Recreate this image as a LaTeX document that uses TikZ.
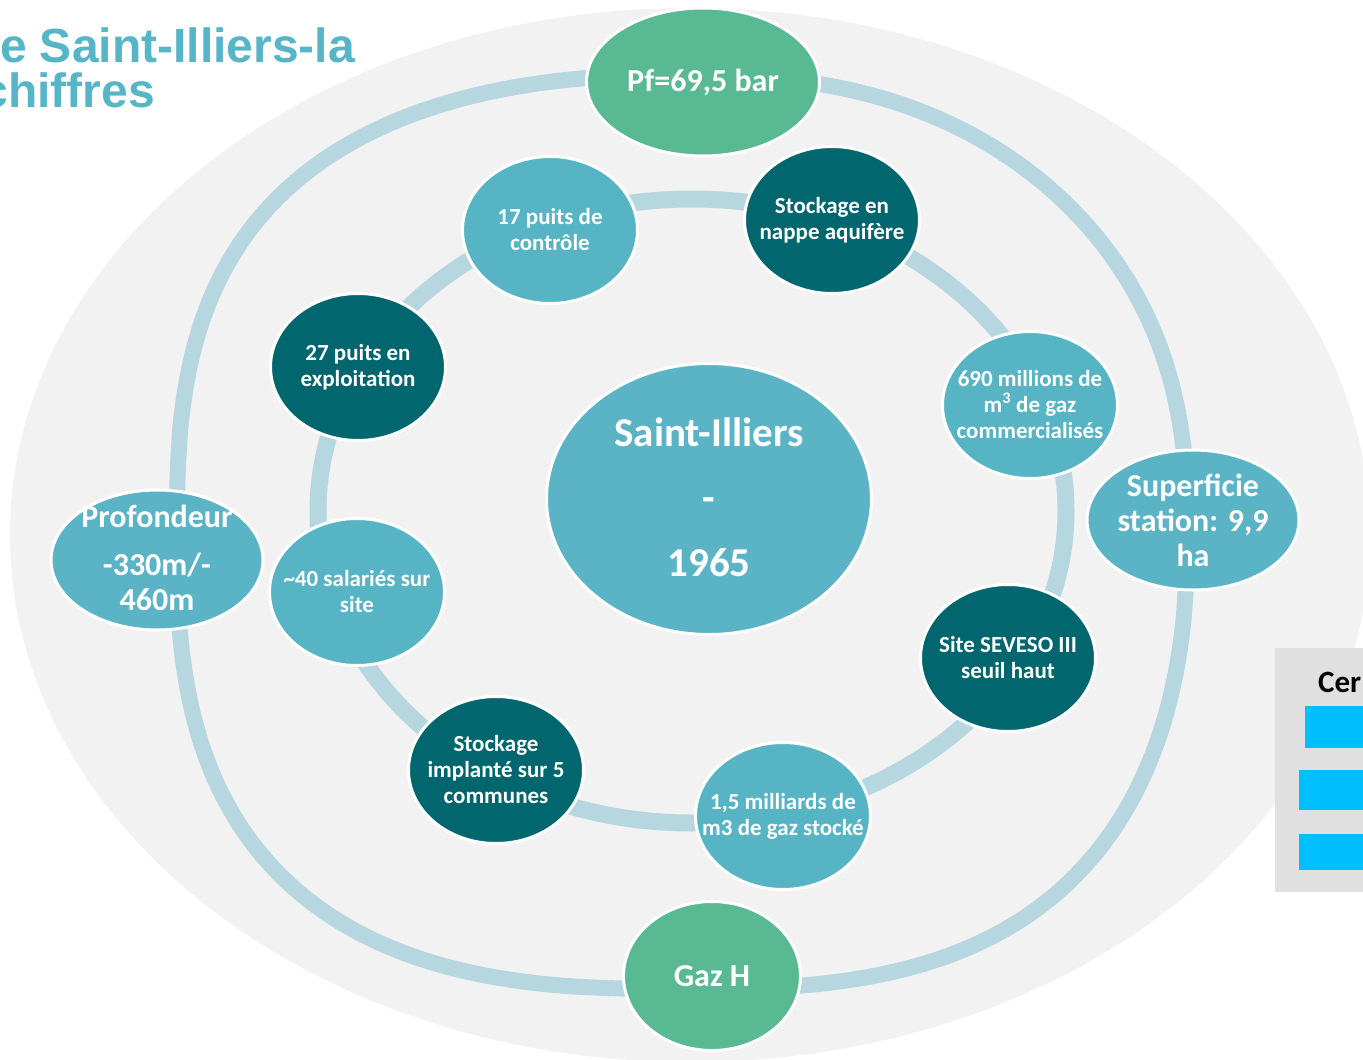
\documentclass[tikz,border=0pt]{standalone}
\usepackage{fontspec}
\newfontfamily\carlito{Carlito}
\newfontfamily\arialf{Liberation Sans}
\usetikzlibrary{shapes.geometric}
\definecolor{bggray}{HTML}{F2F2F2}
\definecolor{ringblue}{HTML}{B6D7E0}
\definecolor{lteal}{HTML}{56B4C4}
\definecolor{cteal}{HTML}{5BB3C6}
\definecolor{dteal}{HTML}{01666E}
\definecolor{greenc}{HTML}{58B993}
\definecolor{titlec}{HTML}{56B5C6}
\definecolor{leggray}{HTML}{E0E0E0}
\definecolor{legblue}{HTML}{00BFFF}
\tikzset{
  ring/.style={draw=ringblue, line width=16pt},
  blob/.style={ellipse, draw=white, line width=3pt, inner sep=0pt},
  innerc/.style={blob, minimum width=175pt, minimum height=147pt},
  lightc/.style={innerc, fill=lteal},
  darkc/.style={innerc, fill=dteal},
  outerc/.style={blob, fill=cteal, minimum width=212pt, minimum height=140pt},
  greenn/.style={blob, fill=greenc},
  txt/.style={text=white, align=center, inner sep=0pt, font=\carlito\bfseries\fontsize{23}{26}\selectfont},
  bigtxt/.style={text=white, align=center, inner sep=0pt, font=\carlito\bfseries\fontsize{32}{35}\selectfont},
  titletxt/.style={text=titlec, inner sep=0pt, font=\arialf\bfseries\fontsize{48}{45}\selectfont},
}
\begin{document}
\begin{tikzpicture}[x=1pt,y=-1pt]
\useasboundingbox (0,0) rectangle (1363,1060);
\clip (0,0) rectangle (1363,1060);
\fill[white] (0,0) rectangle (1363,1060);
% background ellipse
\fill[bggray] (690,535) ellipse [x radius=680, y radius=527];
% outer ring: superellipse with exponent varying by quadrant
\draw[ring] plot[domain=0:360, samples=241, variable=\t]
  ({682 + 505*sign(cos(\t))*pow(abs(cos(\t))+0.0001, 2/(2.55+0.05*sin(2*\t)+0.1414*(sin(\t)-cos(\t))))},
   {532 + 457*sign(sin(\t))*pow(abs(sin(\t))+0.0001, 2/(2.55+0.05*sin(2*\t)+0.1414*(sin(\t)-cos(\t))))}) -- cycle;
% inner ring
\draw[ring, line width=17pt] (692,511) ellipse [x radius=374, y radius=312];
% legend fragment
\fill[leggray] (1275,648) rectangle (1363,892);
\node[anchor=base west, inner sep=0pt, font=\carlito\bfseries\fontsize{31}{36}\selectfont] (leg) at (1318,692) {Cer};
\fill[legblue] (1305,706) rectangle (1363,748);
\fill[legblue] (1299,770) rectangle (1363,810);
\fill[legblue] (1299,834) rectangle (1363,870);
% title
\node[titletxt, anchor=base east] (t1) at (355,62) {e Saint-Illiers-la};
\node[titletxt, anchor=base east] (t2) at (155,107) {chiffres};
% center
\node[blob, fill=cteal, minimum width=325pt, minimum height=271pt] (c) at (709,499) {};
\node[text=white, align=center, inner sep=0pt, yshift=2pt, font=\carlito\bfseries\fontsize{41}{65}\selectfont] (ct) at (c.center) {Saint-Illiers\\-\\1965};
% outer nodes
\node[greenn, minimum width=233pt, minimum height=148pt] (pf) at (703,82) {};
\node[bigtxt] (pft) at (703,82) {Pf=69,5 bar};
\node[greenn, minimum width=177pt, minimum height=149pt] (gaz) at (712,976) {};
\node[bigtxt] (gazt) at (712,976) {Gaz H};
\node[outerc] (prof) at (157,560) {};
\node[bigtxt, yshift=2pt] (proft) at (157,560) {Profondeur\\[13pt]-330m/-\\460m};
\node[outerc] (sup) at (1193,520) {};
\node[bigtxt] (supt) at (1193,520) {Superficie\\station: 9,9\\ha};
% inner nodes
\node[lightc] (n17) at (550,230) {};
\node[txt] (n17t) at (550,230) {17 puits de\\contrôle};
\node[darkc] (nap) at (832,220) {};
\node[txt] (napt) at (832,220) {Stockage en\\nappe aquifère};
\node[lightc] (m690) at (1030,405) {};
\node[txt] (m690t) at (1030,405) {690 millions de\\m\textsuperscript{3} de gaz\\commercialisés};
\node[darkc] (sev) at (1008,658) {};
\node[txt] (sevt) at (1008,658) {Site SEVESO III\\seuil haut};
\node[lightc] (mil) at (783,816) {};
\node[txt] (milt) at (783,816) {1,5 milliards de\\m3 de gaz stocké};
\node[darkc] (imp) at (496,770) {};
\node[txt] (impt) at (496,770) {Stockage\\implanté sur 5\\communes};
\node[lightc] (sal) at (357,592) {};
\node[txt] (salt) at (357,592) {\textasciitilde40 salariés sur\\site};
\node[darkc] (p27) at (358,367) {};
\node[txt] (p27t) at (358,367) {27 puits en\\exploitation};
\end{tikzpicture}
\end{document}
